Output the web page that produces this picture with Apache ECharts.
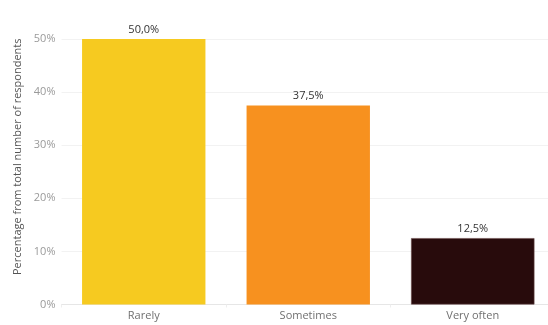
<!DOCTYPE html>
<html>
<head>
<meta charset="utf-8">
<script src="https://cdn.jsdelivr.net/npm/echarts@6/dist/echarts.min.js"></script>
<style>
  html, body { margin: 0; padding: 0; background: #fff; }
  #chart { width: 548px; height: 325px; }
</style>
</head>
<body>
<div id="chart"></div>
<script>
// Answer frequency, share of all respondents (%)
const categories = ['Rarely', 'Sometimes', 'Very often'];
const shares = [50.0, 37.5, 12.5];
const barColors = ['#F6CA20', '#F7911F', '#280B0C'];
const yTicks = [0, 10, 20, 30, 40, 50];

const FONT = 'Open Sans, Lato, sans-serif';
const fmt = v => v.toFixed(1).replace('.', ',') + '%';

const chart = echarts.init(document.getElementById('chart'), null, { renderer: 'canvas' });
chart.setOption({
  animation: false,
  textStyle: { fontFamily: FONT },
  grid: { left: 61.5, top: 39, right: -7, bottom: 20.5, containLabel: false, outerBoundsMode: 'none' },
  xAxis: {
    type: 'category',
    data: categories,
    axisLine: { show: true, lineStyle: { color: '#e6e6e6', width: 1 } },
    axisTick: { show: true, length: 3, lineStyle: { color: '#eeeeee' } },
    axisLabel: { color: '#707070', fontSize: 11, margin: 6, fontFamily: FONT }
  },
  yAxis: {
    type: 'value',
    min: yTicks[0],
    max: yTicks[yTicks.length - 1],
    interval: 10,
    name: 'Percentage from total number of respondents',
    nameLocation: 'middle',
    nameGap: 38,
    nameTextStyle: { color: '#555555', fontSize: 11, fontFamily: FONT, padding: [0, 0, 0, 30] },
    axisLine: { show: false },
    axisTick: { show: false },
    axisLabel: { color: '#9a9a9a', fontSize: 11, margin: 6, formatter: v => v + '%', fontFamily: FONT },
    splitLine: { show: true, lineStyle: { color: '#f2f2f2', width: 1 } }
  },
  series: [{
    type: 'bar',
    barWidth: '75%',
    data: shares.map((v, i) => ({
      value: v,
      itemStyle: {
        color: barColors[i],
        borderColor: i === 2 ? '#6a4b4b' : barColors[i],
        borderWidth: i === 2 ? 0.6 : 0
      }
    })),
    label: {
      show: true,
      position: 'top',
      distance: 4,
      color: '#333333',
      fontSize: 11,
      fontFamily: FONT,
      formatter: p => fmt(p.value)
    }
  }]
});
</script>
</body>
</html>
